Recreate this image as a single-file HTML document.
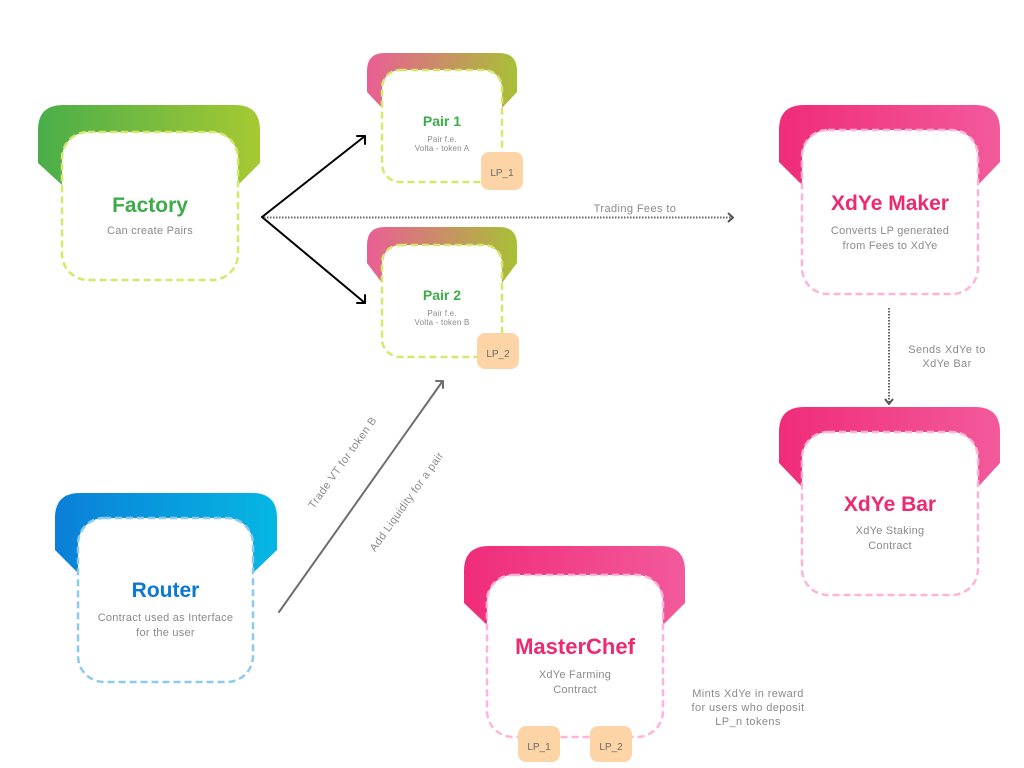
<!DOCTYPE html>
<html><head><meta charset="utf-8"><style>
html,body{margin:0;padding:0;background:#fff;}
svg{display:block;}
text{font-family:"Liberation Sans",sans-serif;}
.t{font-weight:bold;font-size:21px;text-anchor:middle;}
.s{font-size:11px;fill:#8a8a8a;text-anchor:middle;letter-spacing:0.25px;}
.ps{font-size:8px;fill:#8a8a8a;text-anchor:middle;letter-spacing:0.2px;}
.lp{font-size:10px;fill:#6a6a6a;text-anchor:middle;}
.lb{font-size:11px;fill:#8a8a8a;text-anchor:middle;letter-spacing:0.4px;}
</style></head><body>
<svg width="1024" height="768" viewBox="0 0 1024 768" xmlns="http://www.w3.org/2000/svg">
<defs>
<linearGradient id="gG" x1="0" y1="0" x2="1" y2="0"><stop offset="0" stop-color="#4aae4a"/><stop offset="1" stop-color="#a6c932"/></linearGradient>
<linearGradient id="gP" x1="0" y1="0" x2="1" y2="0"><stop offset="0" stop-color="#ea5e95"/><stop offset="1" stop-color="#a8c036"/></linearGradient>
<linearGradient id="gK" x1="0" y1="0" x2="1" y2="0"><stop offset="0" stop-color="#f02c79"/><stop offset="1" stop-color="#f25a9b"/></linearGradient>
<linearGradient id="gB" x1="0" y1="0" x2="1" y2="0"><stop offset="0" stop-color="#0a7fd8"/><stop offset="1" stop-color="#06b7e2"/></linearGradient>
</defs>

<!-- Connectors -->
<g stroke="#000" stroke-width="2" fill="none" stroke-linecap="round" stroke-linejoin="round">
<line x1="262" y1="217" x2="365" y2="136"/>
<polyline points="357,136 365,136 365,144"/>
<line x1="262" y1="217" x2="365" y2="303"/>
<polyline points="357,303 365,303 365,295"/>
</g>
<g stroke="#666" stroke-width="2" fill="none">
<line x1="264" y1="217.5" x2="731" y2="217.5" stroke-dasharray="1.5 1.5"/>
<line x1="889" y1="308" x2="889" y2="402" stroke-dasharray="1.5 1.5"/>
</g>
<g stroke="#555" stroke-width="2" fill="none" stroke-linejoin="round">
<polyline points="728,213 733,217.5 728,222"/>
<polyline points="885,399 889,404 893,399"/>
</g>
<g stroke="#6e6e6e" stroke-width="2" fill="none" stroke-linecap="round" stroke-linejoin="round">
<line x1="279" y1="612" x2="442" y2="382"/>
<polyline points="436,381 443,381 443,388"/>
</g>

<text class="lb" x="635" y="212">Trading Fees to</text>
<text class="lb" x="947" y="353">Sends XdYe to</text>
<text class="lb" x="947" y="367">XdYe Bar</text>
<text class="lb" transform="translate(343,463) rotate(-54.6)" y="3">Trade VT for token B</text>
<text class="lb" transform="translate(407,502) rotate(-54.6)" y="3">Add Liquidity for a pair</text>
<text class="lb" x="748" y="697">Mints XdYe in reward</text>
<text class="lb" x="748" y="711">for users who deposit</text>
<text class="lb" x="748" y="725">LP_n tokens</text>

<!-- Factory -->
<path d="M38,163 V130 Q38,105 63,105 H235 Q260,105 260,130 V163 L238,185 H62 Z" fill="url(#gG)"/>
<rect x="62" y="132" width="176" height="148" rx="26" fill="#fff" stroke="#d5e86c" stroke-width="2.5" stroke-dasharray="7 4"/>
<text class="t" x="150" y="212" fill="#3dab48">Factory</text>
<text class="s" x="150" y="234">Can create Pairs</text>

<!-- Pair 1 -->
<path d="M367,92 V71 Q367,53 385,53 H499 Q517,53 517,71 V92 L502,108 H382 Z" fill="url(#gP)"/>
<rect x="382" y="70" width="120" height="112" rx="18" fill="#fff" stroke="#d5e86c" stroke-width="2.5" stroke-dasharray="7 4"/>
<text class="t" x="442" y="126" fill="#3dab48" style="font-size:14px">Pair 1</text>
<text class="ps" x="442" y="142">Pair f.e.</text>
<text class="ps" x="442" y="151">Volta - token A</text>
<rect x="481" y="152" width="42" height="38" rx="8" fill="#fdd4a6"/>
<text class="lp" x="502" y="176">LP_1</text>

<!-- Pair 2 -->
<path d="M367,263 V245 Q367,227 385,227 H499 Q517,227 517,245 V263 L502,283 H382 Z" fill="url(#gP)"/>
<rect x="382" y="245" width="120" height="112" rx="18" fill="#fff" stroke="#d5e86c" stroke-width="2.5" stroke-dasharray="7 4"/>
<text class="t" x="442" y="300" fill="#3dab48" style="font-size:14px">Pair 2</text>
<text class="ps" x="442" y="316">Pair f.e.</text>
<text class="ps" x="442" y="325">Volta - token B</text>
<rect x="477" y="333" width="42" height="36" rx="8" fill="#fdd4a6"/>
<text class="lp" x="498" y="357">LP_2</text>

<!-- XdYe Maker -->
<path d="M779,162 V130 Q779,105 804,105 H975 Q1000,105 1000,130 V162 L978,185 H802 Z" fill="url(#gK)"/>
<rect x="802" y="130" width="176" height="164" rx="26" fill="#fff" stroke="#ffb4d7" stroke-width="2.5" stroke-dasharray="7 4"/>
<text class="t" x="890" y="210" fill="#ee2a6e">XdYe Maker</text>
<text class="s" x="890" y="234">Converts LP generated</text>
<text class="s" x="890" y="249">from Fees to XdYe</text>

<!-- XdYe Bar -->
<path d="M779,463 V432 Q779,407 804,407 H975 Q1000,407 1000,432 V463 L978,487 H802 Z" fill="url(#gK)"/>
<rect x="802" y="432" width="176" height="163" rx="26" fill="#fff" stroke="#ffb4d7" stroke-width="2.5" stroke-dasharray="7 4"/>
<text class="t" x="890" y="511" fill="#ee2a6e">XdYe Bar</text>
<text class="s" x="890" y="534">XdYe Staking</text>
<text class="s" x="890" y="549">Contract</text>

<!-- Router -->
<path d="M55,550 V518 Q55,493 80,493 H252 Q277,493 277,518 V550 L253,573 H78 Z" fill="url(#gB)"/>
<rect x="78" y="518" width="175" height="164" rx="26" fill="#fff" stroke="#8ecaee" stroke-width="2.5" stroke-dasharray="7 4"/>
<text class="t" x="165.5" y="597" fill="#0a78d4">Router</text>
<text class="s" x="165.5" y="621">Contract used as Interface</text>
<text class="s" x="165.5" y="636">for the user</text>

<!-- MasterChef -->
<path d="M464,603 V571 Q464,546 489,546 H660 Q685,546 685,571 V603 L663,625 H487 Z" fill="url(#gK)"/>
<rect x="487" y="575" width="176" height="162" rx="26" fill="#fff" stroke="#ffb4d7" stroke-width="2.5" stroke-dasharray="7 4"/>
<text class="t" x="575" y="654" fill="#ee2a6e" style="font-size:22px">MasterChef</text>
<text class="s" x="575" y="678">XdYe Farming</text>
<text class="s" x="575" y="693">Contract</text>
<rect x="518" y="726" width="42" height="36" rx="8" fill="#fdd4a6"/>
<text class="lp" x="539" y="750">LP_1</text>
<rect x="590" y="726" width="42" height="36" rx="8" fill="#fdd4a6"/>
<text class="lp" x="611" y="750">LP_2</text>
</svg>
</body></html>
